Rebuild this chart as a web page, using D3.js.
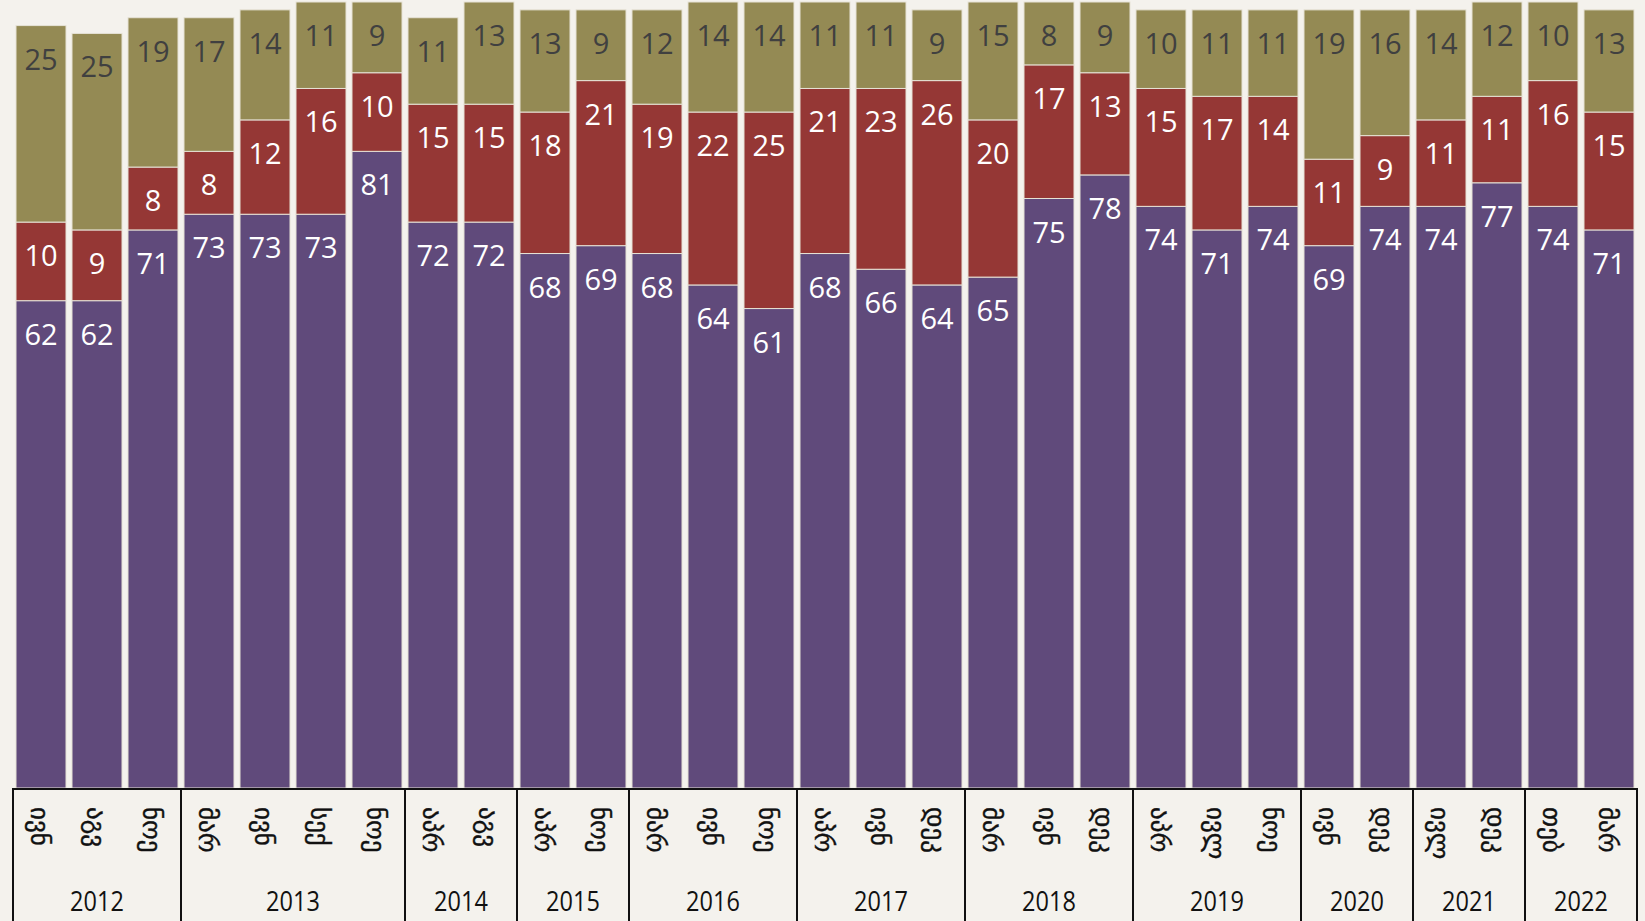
<!DOCTYPE html>
<html>
<head>
<meta charset="utf-8">
<script src="https://cdn.jsdelivr.net/npm/d3@7/dist/d3.min.js"></script>
<style>
  html, body { margin: 0; padding: 0; background: #f4f2ed; }
  svg { display: block; }
</style>
</head>
<body>
<div class="canvas"></div>
<script>
/* stacked shares by survey wave */

// survey months, one per bar
var months = ["ივნ","აგვ","ნოე",
              "მარ","ივნ","სექ","ნოე",
              "აპრ","აგვ",
              "აპრ","ნოე",
              "მარ","ივნ","ნოე",
              "აპრ","ივნ","დეკ",
              "მარ","ივნ","დეკ",
              "აპრ","ივლ","ნოე",
              "ივნ","დეკ",
              "ივლ","დეკ",
              "თებ","მარ"];

// years and how many waves each has
var years = ["2012","2013","2014","2015","2016","2017","2018","2019","2020","2021","2022"];
var yearCounts = [3,4,2,2,3,3,3,3,2,2,2];

// series, bottom to top
var purple = [62,62,71,73,73,73,81,72,72,68,69,68,64,61,68,66,64,65,75,78,74,71,74,69,74,74,77,74,71];
var red    = [10,9,8,8,12,16,10,15,15,18,21,19,22,25,21,23,26,20,17,13,15,17,14,11,9,11,11,16,15];
var olive  = [25,25,19,17,14,11,9,11,13,13,9,12,14,14,11,11,9,15,8,9,10,11,11,19,16,14,12,10,13];

var W = 1645, H = 921;
var left = 13, right = 1637, base = 788;

var svg = d3.select('.canvas')
    .append('svg')
    .attr('width', W)
    .attr('height', H);

var rows = months.map(function(m, i){
    return {i: i, month: m, purple: purple[i], red: red[i], olive: olive[i]};
});

var x = d3.scaleBand()
    .domain(d3.range(months.length))
    .range([left, right])
    .paddingInner(0.107)
    .paddingOuter(0.0535);

var y = d3.scaleLinear()
    .domain([0, 100])
    .range([base, 2]);

var keys = ['purple','red','olive'];
var colors = {purple: '#604a7b', red: '#953735', olive: '#948a54'};
var labelColors = {purple: '#ffffff', red: '#ffffff', olive: '#404040'};

var stack = d3.stack().keys(keys);
var series = stack(rows);

var layer = svg.append('g').selectAll('g.layer')
    .data(series)
    .enter()
    .append('g')
    .attr('class','layer');

layer.selectAll('rect')
    .data(function(d){ return d.map(function(s){ s.key = d.key; return s; }); })
    .enter()
    .append('rect')
    .attr('x', function(d){ return x(d.data.i); })
    .attr('width', x.bandwidth())
    .attr('y', function(d){ return y(d[1]); })
    .attr('height', function(d){ return y(d[0]) - y(d[1]); })
    .style('fill', function(d){ return colors[d.key]; })
    .style('stroke', '#e6e2d6')
    .style('stroke-width', 1);

layer.selectAll('text')
    .data(function(d){ return d; })
    .enter()
    .append('text')
    .attr('x', function(d){ return x(d.data.i) + x.bandwidth()/2; })
    .attr('y', function(d){ return y(d[1]) + 44; })
    .attr('text-anchor','middle')
    .style('font-family','"Open Sans", sans-serif')
    .style('font-size','29px')
    .style('fill', function(d){ return labelColors[d.key]; })
    .text(function(d){ return d.data[d.key]; });

// axis box
var axis = svg.append('g').attr('class','axis');
var step = x.step();

axis.append('line')
    .attr('x1', left).attr('x2', right)
    .attr('y1', base + 1).attr('y2', base + 1)
    .style('stroke','#111').style('stroke-width',2);

var bounds = [0];
yearCounts.forEach(function(c, k){ bounds.push(bounds[k] + c); });

axis.selectAll('line.div')
    .data(bounds)
    .enter()
    .append('line')
    .attr('class','div')
    .attr('x1', function(b){ return left + b*step; })
    .attr('x2', function(b){ return left + b*step; })
    .attr('y1', base).attr('y2', H)
    .style('stroke','#111').style('stroke-width',2);

axis.selectAll('text.month')
    .data(rows)
    .enter()
    .append('text')
    .attr('class','month')
    .attr('transform', function(d){
        return 'translate(' + (x(d.i) + x.bandwidth()/2 - 10) + ',' + 807 + ') rotate(90)';
    })
    .attr('text-anchor','start')
    .style('font-family','"DejaVu Sans", sans-serif')
    .style('font-size','25px')
    .style('fill','#111')
    .style('stroke','#111')
    .style('stroke-width',0.4)
    .text(function(d){ return d.month; });

axis.selectAll('text.year')
    .data(years)
    .enter()
    .append('text')
    .attr('class','year')
    .attr('transform', function(yr, k){
        var cx = left + (bounds[k] + bounds[k+1]) / 2 * step;
        return 'translate(' + cx + ',911) scale(0.84,1)';
    })
    .attr('text-anchor','middle')
    .style('font-family','"Open Sans", sans-serif')
    .style('font-size','28px')
    .style('fill','#111')
    .text(function(d){ return d; });
</script>
</body>
</html>
